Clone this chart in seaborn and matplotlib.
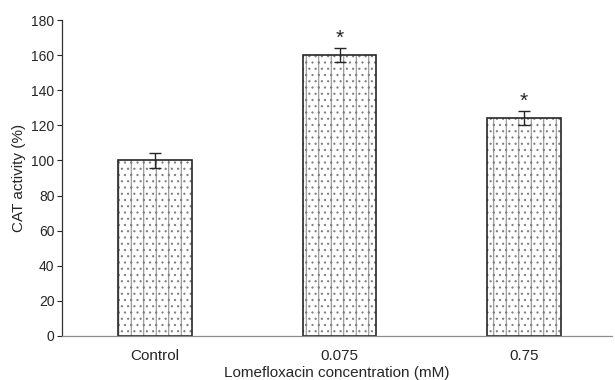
import matplotlib
matplotlib.use("Agg")
import matplotlib.pyplot as plt
import seaborn as sns
import pandas as pd

# values
groups = ["Control", "0.075", "0.75"]
activity = [100, 160, 124]
sem = [4, 4, 4]
signif = ["", "*", "*"]

DPI = 75
k = 100 / DPI  # keep pixel sizes as at dpi 100 (hatch cell follows dpi)

sns.set_style("white")
plt.rcParams['font.family'] = ['Liberation Sans', 'DejaVu Sans']
plt.rcParams['hatch.linewidth'] = 0.7 * k

df = pd.DataFrame({"group": groups, "activity": activity})

fig, ax = plt.subplots(figsize=(615 / DPI, 380 / DPI), dpi=DPI)
fig.subplots_adjust(left=0.101, right=0.995, bottom=0.116, top=0.947)

# dotted fill with grey hatch
sns.barplot(data=df, x="group", y="activity", ax=ax, width=0.4,
            color="white", edgecolor="0.5", linewidth=0, hatch="|..",
            errorbar=None)
# dark outline on top
sns.barplot(data=df, x="group", y="activity", ax=ax, width=0.4,
            fill=False, edgecolor="0.15", linewidth=1.2 * k, errorbar=None)

ax.errorbar(range(len(groups)), activity, yerr=sem, fmt="none",
            ecolor="0.15", elinewidth=1 * k, capsize=4 * k, capthick=1 * k)

for i, s in enumerate(signif):
    if s:
        ax.text(i, activity[i] + sem[i] + 0.5, s, ha="center", va="bottom",
                fontsize=15 * k)

ax.set_ylim(0, 180)
ax.set_xlim(-0.504, 2.477)
ax.set_yticks(range(0, 181, 20))
ax.set_ylabel("CAT activity (%)", fontsize=11 * k, labelpad=4 * k)
ax.set_xlabel("Lomefloxacin concentration (mM)", fontsize=11 * k, labelpad=2 * k)
ax.tick_params(axis="y", left=True, length=3.5 * k, width=0.8 * k,
               labelsize=10 * k, pad=2 * k)
ax.tick_params(axis="x", bottom=False, labelsize=11 * k, pad=7 * k)

for side in ["top", "right"]:
    ax.spines[side].set_visible(False)
ax.spines["left"].set_color("0.2")
ax.spines["left"].set_linewidth(0.9 * k)
ax.spines["bottom"].set_color("0.55")
ax.spines["bottom"].set_linewidth(0.9 * k)

plt.savefig("out.png", dpi=DPI)
